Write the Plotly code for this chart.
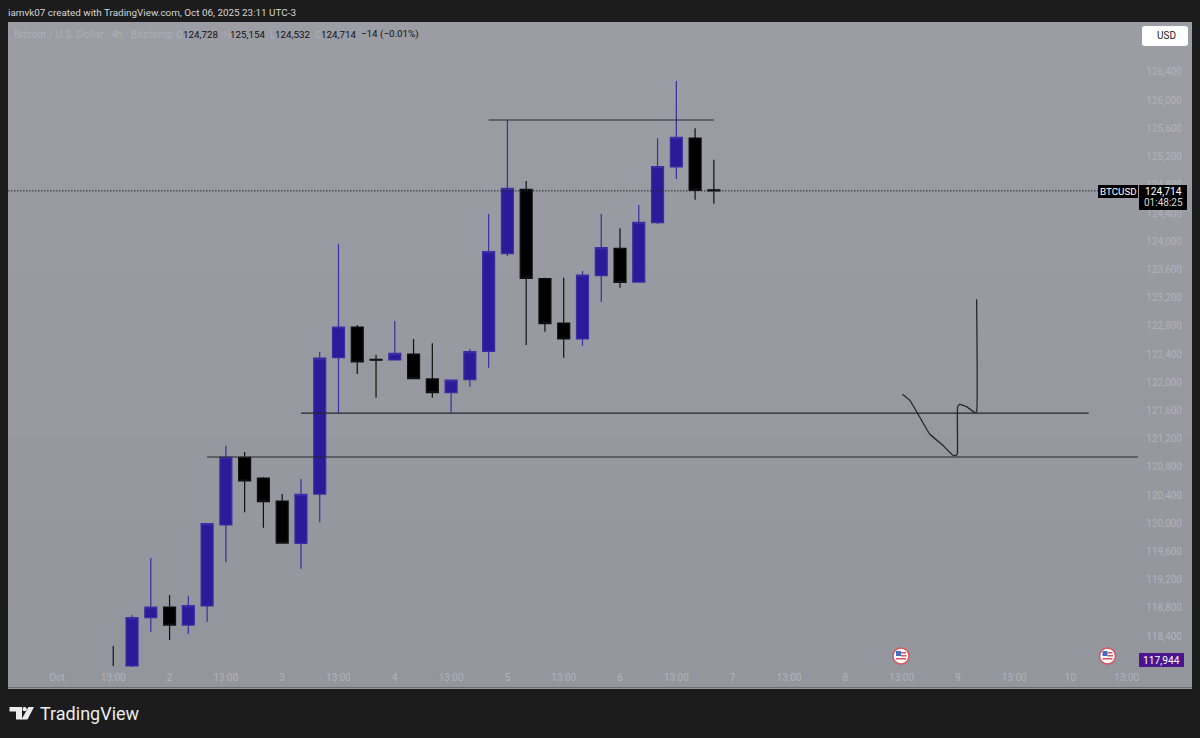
import pandas as pd
import plotly.graph_objects as go

# 4h bars, UTC-3
bar_times = pd.date_range("2025-10-01 17:00", periods=32, freq="4h")
opens = [117975, 118660, 118812, 118556, 118826, 119975, 120935, 120641, 120315, 119715, 120414,
         122348, 122783, 122325, 122315, 122400, 122046, 121851, 122036, 122438, 123823, 124736,
         123470, 122840, 122613, 123511, 123899, 123421, 124262, 125053, 125464, 124728]
highs = [118698, 119507, 118982, 118968, 119993, 121099, 121010, 120655, 120414, 120627, 122428,
         123960, 122811, 122390, 122868, 122613, 122552, 122031, 122471, 124386, 125715, 124854,
         123480, 123482, 123577, 124386, 124183, 124514, 125460, 126272, 125601, 125154]
lows = [117960, 118461, 118343, 118429, 118603, 119446, 120155, 119936, 119719, 119355, 120013,
        121559, 122116, 121780, 122315, 122050, 121780, 121568, 121936, 122206, 123790, 122528,
        122716, 122348, 122518, 123142, 123341, 123421, 124240, 124882, 124589, 124532]
closes = [118660, 118812, 118556, 118830, 119993, 120935, 120599, 120305, 119719, 120410, 122343,
          122783, 122287, 122312, 122410, 122050, 121851, 122031, 122433, 123851, 124750, 123474,
          122830, 122613, 123521, 123908, 123417, 124268, 125057, 125474, 124722, 124714]

# lone wick at the left edge of the chart
stub_times = ["2025-10-01 13:00", "2025-10-01 13:00"]
stub_prices = [118258, 117975]

# drawings
top_line_times = ["2025-10-04 21:00", "2025-10-06 21:00"]
top_line_prices = [125719, 125719]
mid_line_times = ["2025-10-03 05:00", "2025-10-10 04:54"]
mid_line_prices = [121563, 121563]
low_line_times = ["2025-10-02 09:00", "2025-10-10 15:24"]
low_line_prices = [120939, 120939]
last_line_times = ["2025-09-30 14:34", "2025-10-10 10:30"]
last_line_prices = [124714, 124714]

path_times = ["2025-10-08 13:12", "2025-10-08 14:48", "2025-10-08 16:20", "2025-10-08 19:00",
              "2025-10-08 21:54", "2025-10-08 23:52", "2025-10-09 00:36", "2025-10-09 00:54",
              "2025-10-09 00:57", "2025-10-09 01:24", "2025-10-09 02:52", "2025-10-09 04:38",
              "2025-10-09 05:00", "2025-10-09 05:00"]
path_prices = [121828, 121738, 121568, 121265, 121099, 120968, 120958, 120992,
               121653, 121687, 121653, 121568, 121582, 123176]

# axes
price_ticks = [118400, 118800, 119200, 119600, 120000, 120400, 120800, 121200, 121600, 122000,
               122400, 122800, 123200, 123600, 124000, 124400, 124800, 125200, 125600, 126000, 126400]
time_ticks = ["2025-10-01 01:00", "2025-10-01 13:00", "2025-10-02 01:00", "2025-10-02 13:00",
              "2025-10-03 01:00", "2025-10-03 13:00", "2025-10-04 01:00", "2025-10-04 13:00",
              "2025-10-05 01:00", "2025-10-05 13:00", "2025-10-06 01:00", "2025-10-06 13:00",
              "2025-10-07 01:00", "2025-10-07 13:00", "2025-10-08 01:00", "2025-10-08 13:00",
              "2025-10-09 01:00", "2025-10-09 13:00", "2025-10-10 01:00", "2025-10-10 13:00"]
time_labels = ["Oct", "13:00", "2", "13:00", "3", "13:00", "4", "13:00", "5", "13:00", "6", "13:00",
               "7", "13:00", "8", "13:00", "9", "13:00", "10", "13:00"]

# background fades slightly towards the bottom
band_colors = ["#9b9ca4", "#9a9ba3", "#999aa2", "#9899a1", "#9798a0", "#96979f", "#95969e", "#94969e"]

BLUE = "#2d1a99"
WICK_BLUE = "#3d2ca3"
INK = "#26262c"
FAINT = "#b2b3ba"
FONT = "Roboto"
WIDTH, HEIGHT = 1200, 738
LEFT, RIGHT, TOP, BOTTOM = 8, 1192, 22, 688


def px(x):
    return (x - LEFT) / (RIGHT - LEFT)


def py(y):
    return (BOTTOM - y) / (BOTTOM - TOP)


def box(x0, y0, x1, y1, color, kind="rect", line=None, lw=0, layer="above"):
    return dict(type=kind, xref="paper", yref="paper", x0=px(x0), x1=px(x1), y0=py(y0), y1=py(y1),
                fillcolor=color, line=dict(color=line or color, width=lw), layer=layer)


def label(x, y, text, color="#111111", size=9.8, anchor="left", family=FONT):
    return dict(xref="paper", yref="paper", x=px(x), y=py(y), text=text, showarrow=False,
                xanchor=anchor, yanchor="middle", font=dict(family=family, size=size, color=color),
                borderpad=0, borderwidth=0)


def rounded(x0, y0, x1, y1, r, color):
    a, b, c, d = px(x0), px(x1), py(y0), py(y1)
    rx, ry = r / (RIGHT - LEFT), r / (BOTTOM - TOP)
    path = (f"M {a + rx} {c} L {b - rx} {c} Q {b} {c} {b} {c - ry} L {b} {d + ry} Q {b} {d} {b - rx} {d} "
            f"L {a + rx} {d} Q {a} {d} {a} {d + ry} L {a} {c - ry} Q {a} {c} {a + rx} {c} Z")
    return dict(type="path", xref="paper", yref="paper", path=path, fillcolor=color,
                line=dict(width=0), layer="above")


def flag(cx, cy):
    return [
        box(cx - 8, cy - 8, cx + 8, cy + 8, "#ffffff", "circle", "#d8505c", 1.5),
        box(cx - 5, cy - 5, cx, cy, "#3f6fc4"),
        box(cx, cy - 4, cx + 5, cy - 2.5, "#d8505c"),
        box(cx, cy - 1, cx + 5.5, cy + 0.5, "#d8505c"),
        box(cx - 5, cy + 2, cx + 5, cy + 3.5, "#d8505c"),
    ]


fig = go.Figure()

for xs, ys, dash, width in [(last_line_times, last_line_prices, "1.5px,1.5px", 1),
                            (top_line_times, top_line_prices, "solid", 1.2),
                            (mid_line_times, mid_line_prices, "solid", 1.2),
                            (low_line_times, low_line_prices, "solid", 1.2),
                            (stub_times, stub_prices, "solid", 1.4)]:
    fig.add_trace(go.Scatter(x=xs, y=ys, mode="lines", hoverinfo="skip",
                             line=dict(color=INK, width=width, dash=dash)))

fig.add_trace(go.Candlestick(
    x=bar_times, open=opens, high=highs, low=lows, close=closes, whiskerwidth=0,
    increasing=dict(fillcolor=BLUE, line=dict(color=WICK_BLUE, width=1.2)),
    decreasing=dict(fillcolor="#000000", line=dict(color="#111111", width=1.2)),
))

fig.add_trace(go.Scatter(x=path_times, y=path_prices, mode="lines", hoverinfo="skip",
                         line=dict(color=INK, width=1.3, shape="spline", smoothing=0.3)))

band_h = (BOTTOM - TOP) / len(band_colors)
shapes = [box(LEFT, TOP + i * band_h, RIGHT, TOP + (i + 1) * band_h + 1, c, layer="below")
          for i, c in enumerate(band_colors)]
shapes += [
    box(LEFT, BOTTOM - 1, RIGHT, BOTTOM, "#6f7076"),
    box(1098, 185, 1138, 198, "#000000"),
    box(1139, 185, 1187, 210, "#000000"),
    box(1139, 653, 1184, 667, "#4a148c"),
    rounded(1142, 26, 1188, 46, 3, "#ffffff"),
    # logo
    box(9.5, 707, 22, 711.5, "#ececec"),
    box(16, 707, 22, 719.5, "#ececec"),
    box(22.5, 707, 26.8, 711.3, "#ececec", "circle"),
    dict(type="path", xref="paper", yref="paper", layer="above", fillcolor="#ececec", line=dict(width=0),
         path=f"M {px(28.5)} {py(707)} L {px(34)} {py(707)} L {px(27.5)} {py(719.5)} L {px(21.5)} {py(719.5)} Z"),
]
shapes += flag(901, 656) + flag(1107.5, 656)

annotations = [
    label(8, 12, "iamvk07 created with TradingView.com, Oct 06, 2025 23:11 UTC-3", "#d6d6d6", 9.9),
    label(14, 34, "Bitcoin / U.S. Dollar · 4h · Bitstamp", "#aeafb6", 10.4),
    label(176, 34, "O", "#aeafb6"), label(183, 34, "124,728"),
    label(224, 34, "H", "#aeafb6"), label(230, 34, "125,154"),
    label(270, 34, "L", "#aeafb6"), label(275, 34, "124,532"),
    label(315, 34, "C", "#aeafb6"), label(321, 34, "124,714"),
    label(361, 34, "−14 (−0.01%)"),
    label(1118, 191.5, "BTCUSD", "#ffffff", 9.8, "center"),
    label(1163, 191.5, "124,714", "#ffffff", 10.2, "center"),
    label(1163, 202.5, "01:48:25", "#d8d8d8", 10, "center"),
    label(1161.5, 660, "117,944", "#ffffff", 10.2, "center"),
    label(1157, 36, "USD", "#222222", 10),
    label(40, 714, "TradingView", "#ececec", 18),
]

fig.update_layout(
    width=WIDTH, height=HEIGHT, autosize=False,
    margin=dict(l=LEFT, r=WIDTH - RIGHT, t=TOP, b=HEIGHT - BOTTOM, pad=0),
    paper_bgcolor="#1c1c1c", plot_bgcolor="#96979f",
    showlegend=False, boxgap=0.09,
    font=dict(family=FONT, size=10, color=FAINT),
    shapes=shapes, annotations=annotations,
    xaxis=dict(type="date", range=["2025-09-30 14:34", "2025-10-11 02:54"], rangeslider=dict(visible=False),
               tickmode="array", tickvals=time_ticks, ticktext=time_labels, ticks="",
               ticklabelposition="inside", ticklabelstandoff=2, showgrid=False, zeroline=False, showline=False,
               tickfont=dict(color=FAINT, size=10)),
    yaxis=dict(side="right", range=[117663, 127109], tickmode="array", tickvals=price_ticks,
               tickformat=",d", ticks="", ticklabelposition="inside", ticklabelstandoff=7,
               showgrid=False, zeroline=False, showline=False, tickfont=dict(color=FAINT, size=10)),
)

# the page's default body margin would shift the fixed-size figure
fig.write_html("out.html", config=dict(displayModeBar=False),
               post_script="document.body.style.margin='0';document.body.style.overflow='hidden';")
